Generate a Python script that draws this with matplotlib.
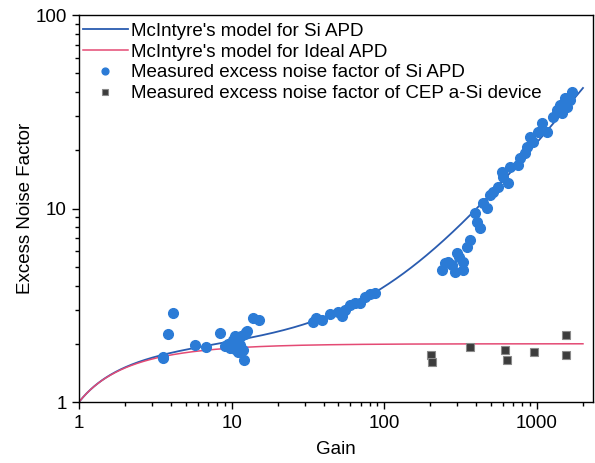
import numpy as np
import matplotlib
matplotlib.use("Agg")
import matplotlib.pyplot as plt
from matplotlib.ticker import FixedLocator, FixedFormatter, LogLocator, NullFormatter

plt.rcParams['font.family'] = ['Liberation Sans', 'DejaVu Sans']

# McIntyre model parameters
k_si = 0.02        # ionization ratio for Si APD
k_ideal = 0.0      # ideal APD
gain_model_max = 2000

# Measured excess noise factor of Si APD
si_gain = [3.55, 4.13, 3.83, 3.55, 5.75, 6.8, 8.4, 9.0, 9.5, 10.0, 10.2, 10.5, 10.8,
           11.0, 11.3, 11.5, 11.8, 12.2, 12.5, 10.5, 9.8, 11.0, 12.0, 13.8, 15.1, 12.6,
           34, 35.7, 39, 44, 49.7, 55, 59.5, 64, 69, 74.6, 80.5, 86.8, 52.8,
           249, 261, 277, 299, 327, 327, 348, 364, 290, 240, 310,
           392, 404, 423, 443, 470, 492, 514, 554, 598, 589, 645, 665,
           750, 773, 834, 859, 899, 940, 1014, 1077, 1161, 1271, 1349, 1413,
           1455, 1523, 1570, 1642, 1693]
si_F = [1.70, 2.88, 2.25, 1.69, 1.97, 1.92, 2.27, 1.95, 2.0, 1.93, 2.1, 1.88, 2.05,
        2.15, 1.98, 2.2, 1.85, 2.25, 2.3, 2.2, 1.9, 1.82, 1.65, 2.72, 2.65, 2.33,
        2.59, 2.72, 2.65, 2.85, 2.92, 2.99, 3.17, 3.25, 3.25, 3.49, 3.61, 3.66, 2.78,
        5.2, 5.3, 5.1, 5.9, 5.3, 4.8, 6.3, 6.9, 4.7, 4.8, 5.6,
        9.5, 8.5, 7.9, 10.7, 10.1, 11.7, 12.2, 12.9, 14.5, 15.4, 13.5, 16.4,
        16.8, 18.2, 19.4, 20.8, 23.4, 22.1, 24.9, 27.7, 24.9, 29.7, 32.3, 34.3,
        31.2, 37.2, 33.5, 36.4, 40.0]

# Measured excess noise factor of CEP a-Si device
cep_gain = [202, 206, 363, 617, 640, 955, 1545, 1545]
cep_F = [1.75, 1.61, 1.92, 1.86, 1.65, 1.81, 2.22, 1.75]

x_ticks = [1, 10, 100, 1000]
x_ticklabels = ['1', '10', '100', '1000']
y_ticks = [1, 10, 100]
y_ticklabels = ['1', '10', '100']


def mcintyre(M, k):
    return k * M + (1 - k) * (2 - 1.0 / M)


fig = plt.figure(figsize=(5.95, 4.63), dpi=100)
ax = fig.add_axes([0.1328, 0.1317, 0.8640, 0.8359])

M = np.logspace(0, np.log10(gain_model_max), 400)
ax.plot(M, mcintyre(M, k_si), color='#2a5cb0', lw=1.3, label="McIntyre's model for Si APD", zorder=2)
ax.plot(M, mcintyre(M, k_ideal), color='#e44a74', lw=1.1, label="McIntyre's model for Ideal APD", zorder=2)
ax.plot(si_gain, si_F, ls='none', marker='o', ms=7.0, mfc='#2b7bd6', mec='#2b7bd6',
        label='Measured excess noise factor of Si APD', zorder=3)
ax.plot(cep_gain, cep_F, ls='none', marker='s', ms=6.2, mfc='#3c3c3c', mec='#8a8a8a', mew=0.8,
        label='Measured excess noise factor of CEP a-Si device', zorder=3)

ax.set_xscale('log')
ax.set_yscale('log')
ax.set_xlim(1, 2330)
ax.set_ylim(1, 100)

ax.xaxis.set_major_locator(FixedLocator(x_ticks))
ax.xaxis.set_major_formatter(FixedFormatter(x_ticklabels))
ax.yaxis.set_major_locator(FixedLocator(y_ticks))
ax.yaxis.set_major_formatter(FixedFormatter(y_ticklabels))
ax.xaxis.set_minor_locator(LogLocator(base=10, subs=np.arange(2, 10), numticks=20))
ax.yaxis.set_minor_locator(LogLocator(base=10, subs=np.arange(2, 10), numticks=20))
ax.xaxis.set_minor_formatter(NullFormatter())
ax.yaxis.set_minor_formatter(NullFormatter())

ax.tick_params(which='major', direction='out', length=5, width=1, labelsize=13.5, pad=4)
ax.tick_params(which='minor', direction='out', length=3, width=1)
for sp in ax.spines.values():
    sp.set_linewidth(1)
    sp.set_color('black')

ax.set_xlabel('Gain', fontsize=13.5, labelpad=7)
ax.set_ylabel('Excess Noise Factor', fontsize=13.5, labelpad=1)

leg = ax.legend(loc='upper left', bbox_to_anchor=(0.0, 0.99), frameon=False, fontsize=13.5,
                handlelength=2.4, handletextpad=0.15, labelspacing=0.2, borderpad=0.2,
                borderaxespad=0.0, markerscale=0.7)

fig.savefig('out.png', dpi=100)
